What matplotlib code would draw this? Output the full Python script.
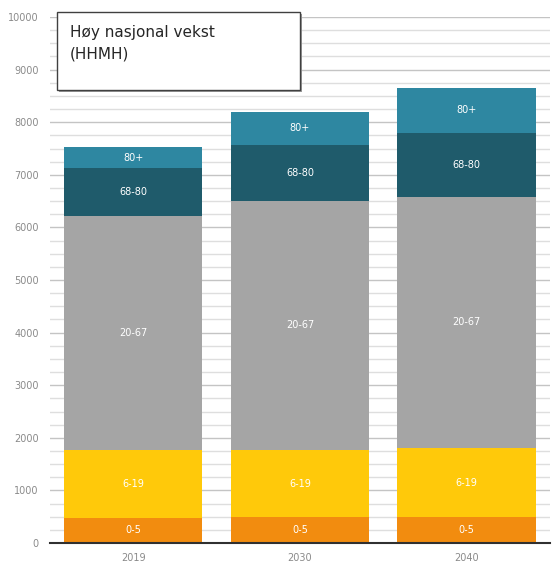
import matplotlib
matplotlib.use("Agg")
import matplotlib.pyplot as plt
import numpy as np
from matplotlib.patches import Rectangle

years = ["2019", "2030", "2040"]
groups = ["0-5", "6-19", "20-67", "68-80", "80+"]
v_0_5 = [480, 485, 490]
v_6_19 = [1280, 1280, 1320]
v_20_67 = [4460, 4740, 4770]
v_68_80 = [900, 1070, 1220]
v_80p = [400, 620, 850]
colors = ["#F28C0F", "#FFC90A", "#A5A5A5", "#1F5B6B", "#2E87A1"]
yticks = list(range(0, 10001, 1000))

series = [v_0_5, v_6_19, v_20_67, v_68_80, v_80p]

fig = plt.figure(figsize=(5.52, 5.65), dpi=100)
ax = fig.add_axes([50/552, 22/565, 500/552, 526/565])
x = np.arange(len(years))
bottom = np.zeros(len(years))
for name, vals, c in zip(groups, series, colors):
    vals = np.array(vals, dtype=float)
    ax.bar(x, vals, 0.83, bottom=bottom, color=c, zorder=3)
    for xi, b, v in zip(x, bottom, vals):
        ax.text(xi, b + v / 2, name, ha="center", va="center", color="white",
                fontsize=7, zorder=4)
    bottom += vals

ax.set_xlim(-0.5, 2.5)
ax.set_ylim(0, 10000)
ax.set_yticks(yticks)
ax.set_yticklabels([str(t) for t in yticks], fontsize=7, color="#8A8A8A")
ax.tick_params(axis="y", length=0, pad=8)
ax.set_xticks(x)
ax.set_xticklabels(years, fontsize=7, color="#8A8A8A")
ax.tick_params(axis="x", length=0, pad=7)
for yv in range(250, 10001, 250):
    major = yv % 1000 == 0
    ax.axhline(yv, color="#C4C4C4" if major else "#DEDEDE", lw=1.0, zorder=1)
for s in ["top", "right", "left"]:
    ax.spines[s].set_visible(False)
ax.spines["bottom"].set_color("#303030")
ax.spines["bottom"].set_linewidth(1.5)
ax.spines["bottom"].set_zorder(5)

# title box
shadow = Rectangle((59/552, 1 - 92/565), 243/552, 78/565, transform=fig.transFigure,
                   facecolor="#9A9A9A", edgecolor="none", zorder=9)
box = Rectangle((57/552, 1 - 90/565), 243/552, 78/565, transform=fig.transFigure,
                facecolor="white", edgecolor="#404040", lw=1.0, zorder=10)
fig.patches.extend([shadow, box])
fig.text(70/552, 1 - 43/565, "Høy nasjonal vekst\n(HHMH)", fontsize=11,
         color="#262626", va="center", ha="left", zorder=11, linespacing=1.55)

fig.savefig("out.png", dpi=100)
